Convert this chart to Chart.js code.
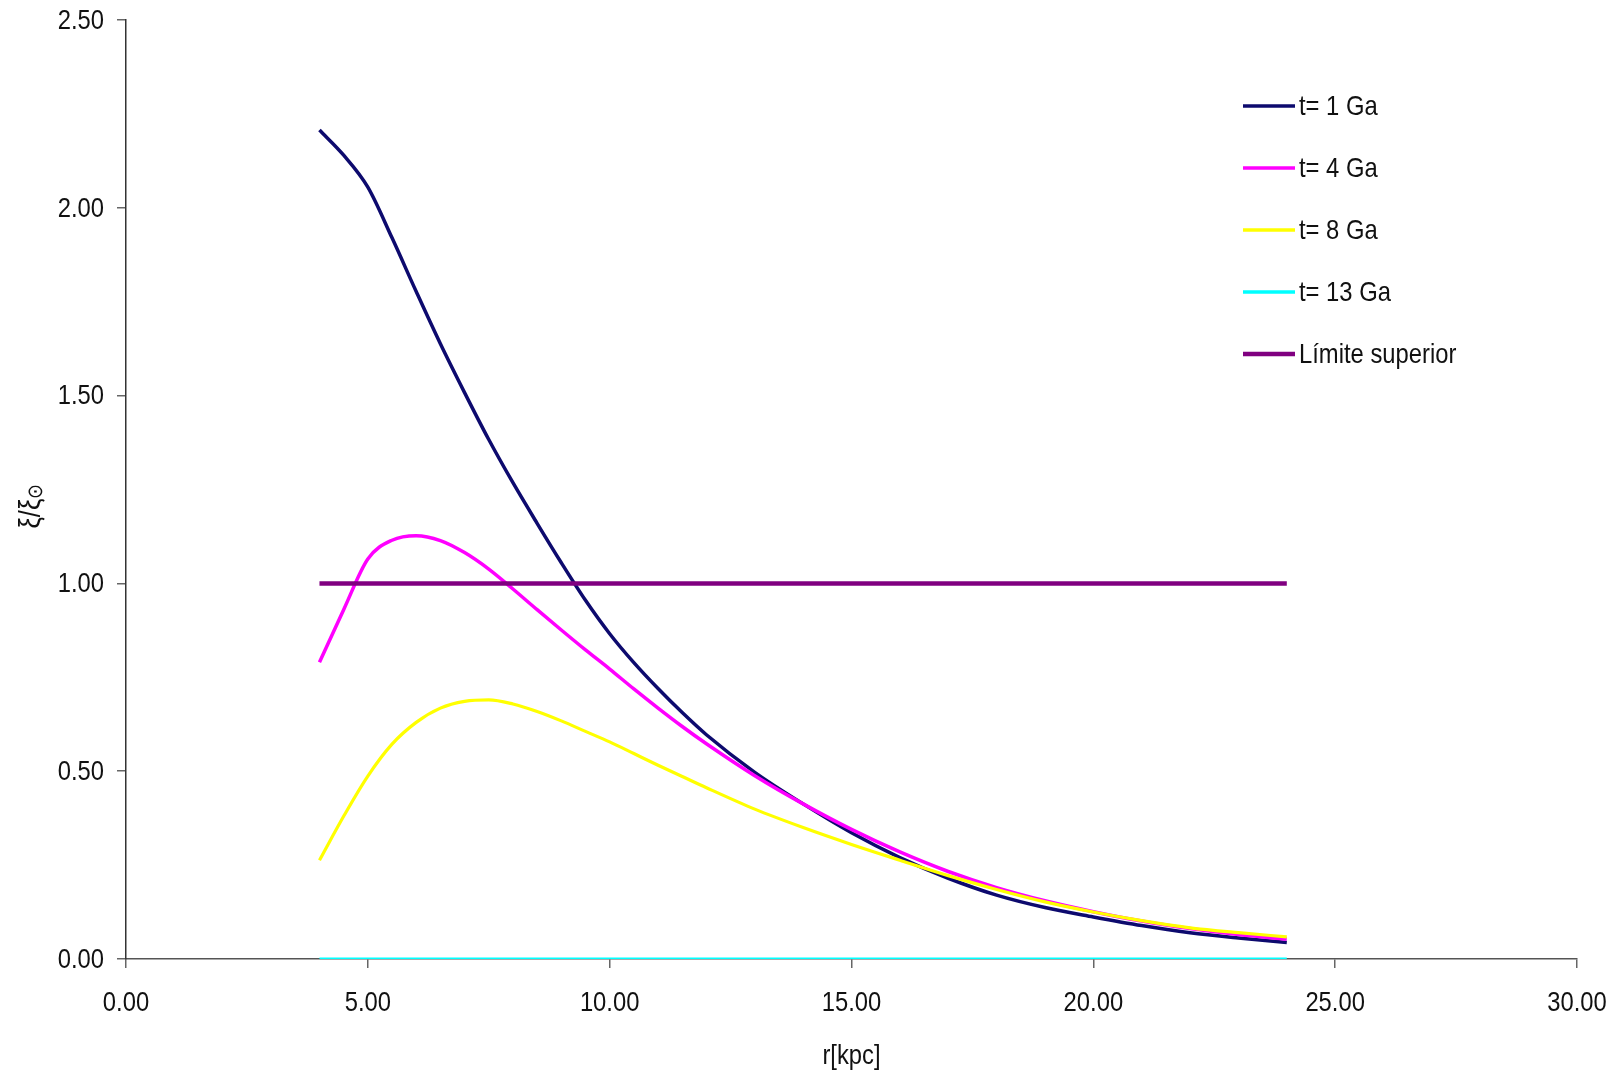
<!DOCTYPE html>
<html>
<head>
<meta charset="utf-8">
<script src="https://cdn.jsdelivr.net/npm/chart.js@4.4.1/dist/chart.umd.min.js"></script>
<style>
  html, body { margin: 0; padding: 0; background: #fff; }
  #wrap { width: 1623px; height: 1073px; position: relative; }
</style>
</head>
<body>
<div id="wrap"><canvas id="chart" width="1623" height="1073"></canvas></div>
<script>
// radius in kpc
const rValues = [4, 4.5, 5, 5.5, 6, 6.5, 7, 7.5, 8, 8.5, 9, 9.5, 10, 10.5, 11, 11.5, 12, 13, 14, 15, 16, 17, 18, 19, 20, 21, 22, 23, 24];

// xi / xi_sun for each epoch
const t1Ga  = [2.207, 2.14, 2.055, 1.92, 1.777, 1.638, 1.508, 1.383, 1.268, 1.16, 1.055, 0.955, 0.866, 0.789, 0.72, 0.656, 0.597, 0.497, 0.413, 0.336, 0.27, 0.215, 0.17, 0.137, 0.112, 0.089, 0.07, 0.056, 0.044];
const t4Ga  = [0.79, 0.93, 1.065, 1.115, 1.127, 1.114, 1.082, 1.038, 0.985, 0.93, 0.876, 0.823, 0.772, 0.719, 0.668, 0.619, 0.573, 0.488, 0.413, 0.345, 0.285, 0.233, 0.19, 0.155, 0.126, 0.101, 0.081, 0.065, 0.053];
const t8Ga  = [0.263, 0.38, 0.487, 0.572, 0.63, 0.668, 0.686, 0.69, 0.679, 0.659, 0.634, 0.606, 0.578, 0.547, 0.516, 0.486, 0.456, 0.399, 0.35, 0.305, 0.263, 0.222, 0.185, 0.152, 0.125, 0.102, 0.083, 0.07, 0.059];
const t13Ga = [0, 0, 0, 0, 0, 0, 0, 0, 0, 0, 0, 0, 0, 0, 0, 0, 0, 0, 0, 0, 0, 0, 0, 0, 0, 0, 0, 0, 0];
const limiteSuperior = [1, 1, 1, 1, 1, 1, 1, 1, 1, 1, 1, 1, 1, 1, 1, 1, 1, 1, 1, 1, 1, 1, 1, 1, 1, 1, 1, 1, 1];

const seriesNames = ["t= 1 Ga", "t= 4 Ga", "t= 8 Ga", "t= 13 Ga", "Límite superior"];
const seriesColors = ["#0d0a6e", "#ff00ff", "#ffff00", "#00ffff", "#800080"];
const seriesWidths = [3.5, 3.5, 3.2, 3, 4.5];
const seriesValues = [t1Ga, t4Ga, t8Ga, t13Ga, limiteSuperior];

const yTicks = [0, 0.5, 1, 1.5, 2, 2.5];
const xTicks = [0, 5, 10, 15, 20, 25, 30];

// narrow look: Liberation Sans squeezed horizontally
const FONT = '"Liberation Sans", Arial, sans-serif';
const SQUEEZE = 0.85;

const toPoints = arr => rValues.map((r, i) => ({ x: r, y: arr[i] }));

const datasets = seriesNames.map((name, i) => ({
    label: name,
    data: toPoints(seriesValues[i]),
    borderColor: seriesColors[i],
    backgroundColor: seriesColors[i],
    borderWidth: seriesWidths[i],
    pointRadius: 0,
    fill: false,
    cubicInterpolationMode: 'monotone',
    // later series on top, as in the original
    order: seriesNames.length - i
}));

function narrowText(ctx, text, x, y, align, size) {
    ctx.save();
    ctx.translate(x, y);
    ctx.scale(SQUEEZE, 1);
    ctx.font = size + 'px ' + FONT;
    ctx.textAlign = align;
    ctx.textBaseline = 'middle';
    ctx.fillText(text, 0, 0);
    ctx.restore();
}

/**
 * Tick labels, legend and axis titles drawn by hand
 */
const decorPlugin = {
    id: 'decor',
    afterDraw(chart) {
        const ctx = chart.ctx;
        const area = chart.chartArea;
        const xs = chart.scales.x;
        const ys = chart.scales.y;
        ctx.save();
        ctx.fillStyle = '#111';

        // tick labels
        yTicks.forEach(v => narrowText(ctx, v.toFixed(2), 104, ys.getPixelForValue(v) + 1, 'right', 28));
        xTicks.forEach(v => narrowText(ctx, v.toFixed(2), xs.getPixelForValue(v), 1003, 'center', 28));

        // legend
        seriesNames.forEach((name, i) => {
            const y = 106 + i * 62;
            ctx.strokeStyle = seriesColors[i];
            ctx.lineWidth = i === 4 ? 4.5 : 3.5;
            ctx.beginPath();
            ctx.moveTo(1243, y);
            ctx.lineTo(1295, y);
            ctx.stroke();
            narrowText(ctx, name, 1299, y + 1, 'left', 28);
        });

        // x title
        narrowText(ctx, 'r[kpc]', (area.left + area.right) / 2, 1056, 'center', 28);

        // y title, rotated, with subscript sun
        ctx.translate(32, 506);
        ctx.rotate(-Math.PI / 2);
        ctx.scale(SQUEEZE, 1);
        const main = '\u03BE/\u03BE';
        ctx.font = '30px ' + FONT;
        const mw = ctx.measureText(main).width;
        ctx.font = '21px ' + FONT;
        const sw = ctx.measureText('\u2299').width;
        const start = -(mw + sw) / 2;
        ctx.textAlign = 'left';
        ctx.textBaseline = 'middle';
        ctx.font = '30px ' + FONT;
        ctx.fillText(main, start, 0);
        ctx.font = '21px ' + FONT;
        ctx.fillText('\u2299', start + mw, 4);
        ctx.restore();
    }
};

const hiddenTicks = { color: 'rgba(0,0,0,0)', font: { size: 1 }, padding: 0, maxRotation: 0 };

new Chart(document.getElementById('chart'), {
    type: 'line',
    data: { datasets },
    options: {
        responsive: false,
        animation: false,
        layout: { padding: { left: 0, right: 46, top: 20, bottom: 0 } },
        plugins: {
            legend: { display: false },
            tooltip: { enabled: false }
        },
        scales: {
            x: {
                type: 'linear',
                min: 0,
                max: 30,
                afterBuildTicks: s => { s.ticks = xTicks.map(v => ({ value: v })); },
                afterFit: s => { s.height = 114; },
                border: { color: '#555', width: 1.5 },
                grid: { drawOnChartArea: false, drawTicks: true, tickLength: 9, color: '#666', lineWidth: 1.5 },
                ticks: hiddenTicks
            },
            y: {
                min: 0,
                max: 2.5,
                afterBuildTicks: s => { s.ticks = yTicks.map(v => ({ value: v })); },
                afterFit: s => { s.width = 126; },
                border: { color: '#333', width: 1.5 },
                grid: { drawOnChartArea: false, drawTicks: true, tickLength: 9, color: '#666', lineWidth: 1.5 },
                ticks: hiddenTicks
            }
        }
    },
    plugins: [decorPlugin]
});
</script>
</body>
</html>
